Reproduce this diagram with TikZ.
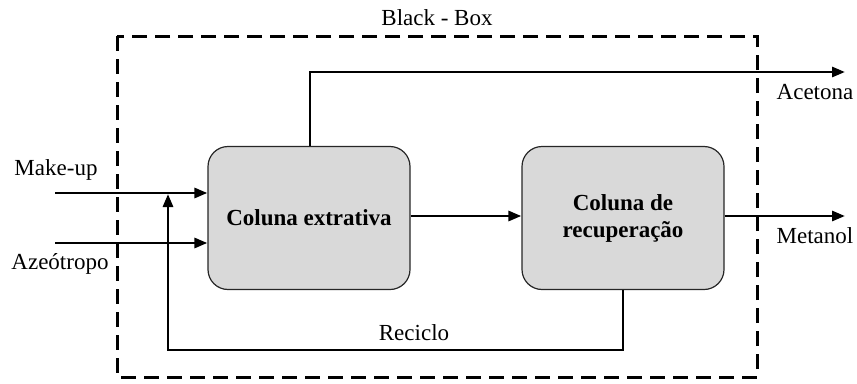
\documentclass[tikz,border=0pt]{standalone}
\usepackage{fontspec}
\setmainfont{Liberation Serif}
\usetikzlibrary{arrows.meta}
\begin{document}
\begin{tikzpicture}[x=1pt,y=-1pt,
  txt/.style={font=\fontsize{23}{27}\selectfont, inner sep=0pt},
  unit/.style={draw=black!85, line width=1.2pt, fill=black!15, rounded corners=20pt,
    minimum width=202pt, minimum height=143pt, align=center,
    font=\fontsize{23}{27}\selectfont\bfseries},
  flow/.style={line width=2.8pt, -{Triangle[length=13pt,width=10pt]}},
  bb/.style={line width=3pt, dash pattern=on 15pt off 8pt}]
\useasboundingbox (0,0) rectangle (857,383);
\draw[bb] (117,36) rectangle (757,377);
\node[txt] (bbl) at (437,18) {Black - Box};
\node[unit] (c1) at (309,218) {Coluna extrativa};
\node[unit] (c2) at (623,218) {Coluna de\\recupera\c{c}\~ao};
\coordinate (mk) at (55,193);
\coordinate (az) at (55,243);
\coordinate (ac) at (845,72);
\coordinate (me) at (845,216);
\coordinate (r1) at (623,350);
\coordinate (r2) at (168,350);
\coordinate (r3) at (168,194);
\draw[flow] (mk) -- (c1.west |- mk);
\draw[flow] (az) -- (c1.west |- az);
\draw[flow] (c1.north -| 310,0) |- (ac);
\draw[flow] (c1.east |- 0,216) -- (c2.west |- 0,216);
\draw[flow] (c2.east |- me) -- (me);
\draw[flow] (c2.south) -- (r1) -- (r2) -- (r3);
\node[txt] (lmk) at (56,170) {Make-up};
\node[txt] (laz) at (60,264) {Azeótropo};
\node[txt] (lac) at (815,92) {Acetona};
\node[txt] (lme) at (815,236) {Metanol};
\node[txt] (lre) at (414,333) {Reciclo};
\end{tikzpicture}
\end{document}
